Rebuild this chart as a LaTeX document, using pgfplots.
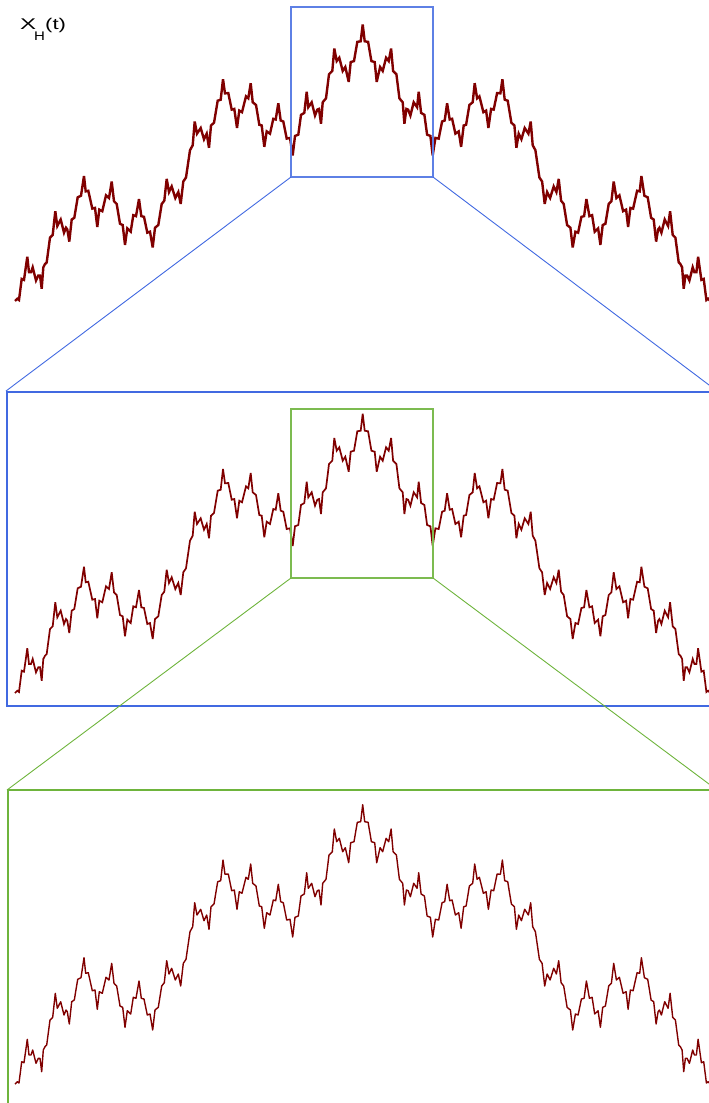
\documentclass[border=0pt]{standalone}
\usepackage{pgfplots}
\pgfplotsset{compat=1.18}
\usepackage{pgfplotstable}
\usepackage{fontspec}
\setmainfont{Liberation Sans}

\definecolor{curve}{RGB}{128,0,0}
\definecolor{zoomblue}{RGB}{65,105,225}
\definecolor{zoomgreen}{RGB}{110,180,60}

% sampled path of X_H(t): t (horizontal position), X (height)
\pgfplotstableread{
t X
15 0
17.3 2.3
19 1
21.7 22.3
24 21.3
27.3 44.7
29 29
31 29
32.7 34
36 20.7
38.3 25.7
40 25.7
41.7 12.3
43.3 34
45 37.3
46.7 39
50 64
52.7 66.7
55.3 90.7
57.3 75.7
60.7 82.3
64 69
66 74
67.3 72.3
69.3 60
71.7 82.3
74.3 84
77.7 104.7
81 106.3
84 126.3
85.7 110.7
88.3 111.3
92.3 93.3
95 94
97.3 74.7
99.3 92.3
102.3 90.7
106 106.7
109 104
111.7 120.7
114 100.7
116.7 98
120 78
122.7 76.7
125 56.7
127.3 73.3
130.7 70
133.3 86.7
136 85.7
139 103
141.3 85.7
144 85
147.3 69
150 70
152.7 54
155 74
158.3 76.7
161.7 98
164.3 101.3
166.7 123.3
169 110
171.7 115.7
175.3 104
178.3 110
180.7 98
183.3 120.7
186 124.7
190 152.3
192.7 157.3
194.7 181.3
197 169
200.7 174.7
204 163.3
206.7 169
209 154.7
211 177.3
214 180
217.7 202.3
220.7 203.3
223 224
225 209.7
228.3 210
231.7 193.3
234.3 194
237 174.7
239.3 192.3
242 190.7
246 206.7
248.3 204.7
250.7 220
252.7 200.7
256 198
259.3 178
261.7 177.3
264.3 155.7
266.7 171.3
270 169
273.3 184
275.7 183.3
278.3 199.7
280.7 182.3
283.3 181.3
286.7 164
290 164.7
292.7 147
295 166.7
298.3 168
301 188
304.3 190
306.7 211.3
308.3 195.7
311.7 200.7
315 187.3
317.3 193.3
319 194
321 179
322.7 200.7
326 204.7
329 229
332.3 232.3
334.3 255
336.7 242.3
339.3 245.7
342.7 232.3
345.3 236.3
348.7 221.3
350.7 241.3
354 242.3
357.3 261.7
360.7 262.3
362.7 279.3
364.7 262.3
368.1 261.7
371.4 242.3
374.7 241.3
376.7 221.3
380.1 236.3
382.7 232.3
386.1 245.7
388.7 242.3
391.1 255
393.1 232.3
396.4 229
399.4 204.7
402.7 200.7
404.4 179
406.4 194
408.1 193.3
410.4 187.3
413.7 200.7
417.1 195.7
418.7 211.3
421.1 190
424.4 188
427.1 168
430.4 166.7
432.7 147
435.4 164.7
438.7 164
442.1 181.3
444.7 182.3
447.1 199.7
449.7 183.3
452.1 184
455.4 169
458.7 171.3
461.1 155.7
463.7 177.3
466.1 178
469.4 198
472.7 200.7
474.7 220
477.1 204.7
479.4 206.7
483.4 190.7
486.1 192.3
488.4 174.7
491.1 194
493.7 193.3
497.1 210
500.4 209.7
502.4 224
504.7 203.3
507.7 202.3
511.4 180
514.4 177.3
516.4 154.7
518.7 169
521.4 163.3
524.7 174.7
528.4 169
530.7 181.3
532.7 157.3
535.4 152.3
539.4 124.7
542.1 120.7
544.7 98
547.1 110
550.1 104
553.7 115.7
556.4 110
558.7 123.3
561.1 101.3
563.7 98
567.1 76.7
570.4 74
572.7 54
575.4 70
578.1 69
581.4 85
584.1 85.7
586.4 103
589.4 85.7
592.1 86.7
594.7 70
598.1 73.3
600.4 56.7
602.7 76.7
605.4 78
608.7 98
611.4 100.7
613.7 120.7
616.4 104
619.4 106.7
623.1 90.7
626.1 92.3
628.1 74.7
630.4 94
633.1 93.3
637.1 111.3
639.7 110.7
641.4 126.3
644.4 106.3
647.7 104.7
651.1 84
653.7 82.3
656.1 60
658.1 72.3
659.4 74
661.4 69
664.7 82.3
668.1 75.7
670.1 90.7
672.7 66.7
675.4 64
678.7 39
680.4 37.3
682.1 34
683.7 12.3
685.4 25.7
687.1 25.7
689.4 20.7
692.7 34
694.4 29
696.4 29
698.1 44.7
701.4 21.3
703.7 22.3
706.4 1
708.1 2.3
710.4 0
}\pathdata

\pgfplotsset{
  panel/.style={
    hide axis, scale only axis, clip=false,
    anchor=south west, width=709pt,
    xmin=0, xmax=709,
  },
}

\begin{document}
\begin{tikzpicture}
\useasboundingbox (0pt,0pt) rectangle (709pt,-1103pt);

% full view
\begin{axis}[panel, at={(0pt,-320pt)}, height=320pt, ymin=-19.2, ymax=304.0]
  \addplot[curve, line width=2.4pt, line join=miter, miter limit=4] table[x=t, y=X] {\pathdata};
\end{axis}

% first zoom
\begin{axis}[panel, at={(0pt,-706pt)}, height=315pt, ymin=-13, ymax=302]
  \addplot[curve, line width=1.7pt, line join=miter, miter limit=4] table[x=t, y=X] {\pathdata};
\end{axis}

% second zoom
\begin{axis}[panel, at={(0pt,-1103pt)}, height=313pt, ymin=-19, ymax=294]
  \addplot[curve, line width=1.4pt, line join=round] table[x=t, y=X] {\pathdata};
\end{axis}

% zoom windows and their frames
\draw[zoomblue!85!white, line width=1.3pt] (291pt,-7pt) rectangle (433pt,-177pt);
\draw[zoomblue, line width=0.9pt] (291pt,-177pt) -- (6pt,-391pt);
\draw[zoomblue, line width=0.9pt] (433pt,-177pt) -- (717pt,-391pt);
\draw[zoomblue, line width=2.8pt] (7pt,-392pt) rectangle (720pt,-706pt);

\draw[zoomgreen!90!white, line width=1.3pt] (291pt,-409pt) rectangle (433pt,-578pt);
\draw[zoomgreen, line width=0.9pt] (291pt,-578pt) -- (7pt,-790pt);
\draw[zoomgreen, line width=0.9pt] (433pt,-578pt) -- (717pt,-790pt);
\draw[zoomgreen, line width=2.8pt] (8pt,-1110pt) -- (8pt,-790pt) -- (720pt,-790pt);

% label X_H(t)
\node[anchor=base west, inner sep=0pt] at (20pt,-29.3pt)
  {\scalebox{1.55}[1]{\fontsize{15.5}{18}\selectfont X}};
\node[anchor=base west, inner sep=0pt] at (34pt,-40.7pt)
  {\scalebox{1.2}[1]{\fontsize{12.5}{14}\selectfont H}};
\node[anchor=base west, inner sep=0pt] at (45pt,-29.3pt)
  {\scalebox{1.43}[1]{\fontsize{15.5}{18}\selectfont (t)}};
\end{tikzpicture}
\end{document}
